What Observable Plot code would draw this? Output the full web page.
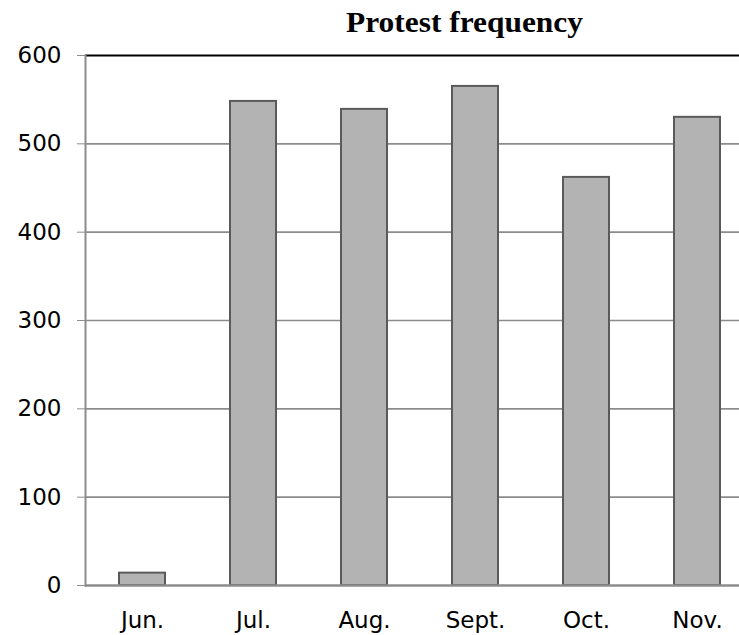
<!DOCTYPE html>
<html>
<head>
<meta charset="utf-8">
<script src="https://cdn.jsdelivr.net/npm/d3@7"></script>
<script src="https://cdn.jsdelivr.net/npm/@observablehq/plot@0.6"></script>
<style>
  html, body { margin: 0; padding: 0; background: white; overflow: hidden; }
  #chart { position: relative; width: 739px; height: 635px; }
</style>
</head>
<body>
<div id="chart"></div>
<script>
const titleText = "Protest frequency";
const months = ["Jun.", "Jul.", "Aug.", "Sept.", "Oct.", "Nov."];
const protests = [14, 548, 539, 565, 462, 530];
const yTicks = [0, 100, 200, 300, 400, 500, 600];
const gridTicks = [100, 200, 300, 400, 500];

const data = months.map((m, i) => ({month: m, value: protests[i]}));

const plot = Plot.plot({
  width: 739,
  height: 635,
  marginTop: 55,
  marginBottom: 50,
  marginLeft: 85,
  marginRight: -14,
  style: {fontFamily: "DejaVu Sans", fontSize: "23px", color: "black", background: "white"},
  x: {domain: months, paddingInner: 0.59, paddingOuter: 0.295, label: null},
  y: {domain: [0, 600], label: null},
  marks: [
    Plot.ruleY(gridTicks, {stroke: "#8c8c8c", strokeWidth: 1.6}),
    Plot.ruleY([600], {stroke: "black", strokeWidth: 2}),
    Plot.barY(data, {x: "month", y: "value", fill: "#b3b3b3", stroke: "#5a5a5a", strokeWidth: 2}),
    Plot.ruleY([0], {stroke: "#8c8c8c", strokeWidth: 2.5}),
    Plot.frame({anchor: "left", stroke: "#8c8c8c", strokeWidth: 2}),
    Plot.axisY({ticks: yTicks, tickSize: 8, tickPadding: 16, stroke: "#8c8c8c", fill: "black", fontSize: 23, label: null, tickFormat: d => String(d)}),
    Plot.axisX({tickSize: 0, tickPadding: 26, fill: "black", fontSize: 23, label: null})
  ]
});
document.getElementById("chart").appendChild(plot);

d3.select(plot).append("text")
  .attr("x", 346)
  .attr("y", 32)
  .attr("text-anchor", "start")
  .attr("font-family", "Liberation Serif, Times New Roman, serif")
  .attr("font-weight", "bold")
  .attr("font-size", 30)
  .attr("fill", "black")
  .attr("textLength", 237)
  .attr("lengthAdjust", "spacingAndGlyphs")
  .text(titleText);
</script>
</body>
</html>
